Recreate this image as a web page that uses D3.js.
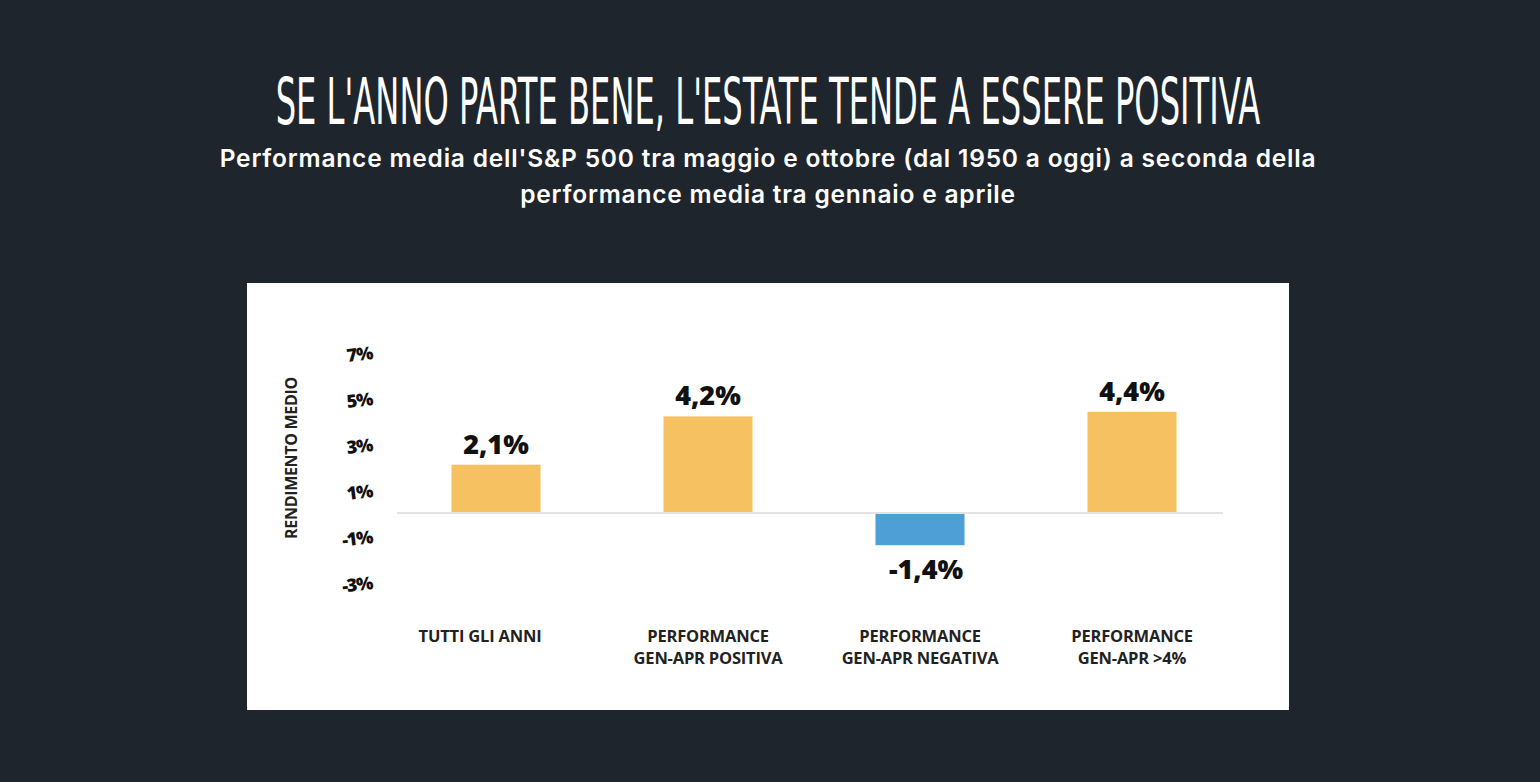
<!DOCTYPE html>
<html>
<head>
<meta charset="utf-8">
<script src="https://cdn.jsdelivr.net/npm/d3@7"></script>
<style>
  body { margin: 0; background: #1f252c; }
  svg { display: block; }
</style>
</head>
<body>
<div id="chart"></div>
<script>
// data
var categories = [
  ["TUTTI GLI ANNI"],
  ["PERFORMANCE", "GEN-APR POSITIVA"],
  ["PERFORMANCE", "GEN-APR NEGATIVA"],
  ["PERFORMANCE", "GEN-APR >4%"]
];
var values = [2.1, 4.2, -1.4, 4.4];
var valueLabels = ["2,1%", "4,2%", "-1,4%", "4,4%"];
var tickValues = [7, 5, 3, 1, -1, -3];
var tickLabels = ["7%", "5%", "3%", "1%", "-1%", "-3%"];

var W = 1540, H = 782;
var svg = d3.select("#chart").append("svg").attr("width", W).attr("height", H);

svg.append("rect").attr("width", W).attr("height", H).attr("fill", "#1f252c");

// title: narrow font squeezed to the original width
var title = svg.append("text")
  .attr("text-anchor", "middle")
  .attr("style", "font-family:'Liberation Sans Narrow','DejaVu Sans Condensed',sans-serif;font-size:64px;fill:#fff")
  .text("SE L'ANNO PARTE BENE, L'ESTATE TENDE A ESSERE POSITIVA");
var tw = title.node().getComputedTextLength();
title.attr("transform", "translate(768,124) scale(" + (985 / tw) + ",1)");

var sub = ["Performance media dell'S&P 500 tra maggio e ottobre (dal 1950 a oggi) a seconda della",
           "performance media tra gennaio e aprile"];
svg.selectAll(".sub").data(sub).enter().append("text")
  .attr("class", "sub")
  .attr("x", 768).attr("y", function(d, i) { return 167 + i * 36; })
  .attr("text-anchor", "middle")
  .attr("style", "font-family:Inter,'Open Sans',sans-serif;font-weight:600;font-size:24.5px;fill:#fff;letter-spacing:0.8px")
  .text(function(d) { return d; });

// white panel
svg.append("rect").attr("x", 247).attr("y", 283).attr("width", 1042).attr("height", 427).attr("fill", "#fff");

var x = d3.scaleBand().domain(d3.range(values.length))
  .range([390, 1238]).paddingInner(0.58).paddingOuter(0.29);
var y = d3.scaleLinear().domain([0, 1]).range([513, 490]);

// y ticks, slightly tilted like the original
var ticks = svg.append("g");
ticks.selectAll("text").data(tickValues).enter().append("text")
  .attr("transform", function(d) { return "translate(373," + (y(d) + 7) + ") rotate(-7)"; })
  .attr("text-anchor", "end")
  .attr("style", "font-family:'Open Sans',sans-serif;font-weight:800;font-size:18px;fill:#111;letter-spacing:-1px")
  .text(function(d, i) { return tickLabels[i]; });

svg.append("text")
  .attr("transform", "translate(297,458) rotate(-90)")
  .attr("text-anchor", "middle")
  .attr("style", "font-family:'Open Sans',sans-serif;font-weight:700;font-size:16px;fill:#222;letter-spacing:-0.3px")
  .text("RENDIMENTO MEDIO");

// bars
svg.selectAll(".bar").data(values).enter().append("rect")
  .attr("class", "bar")
  .attr("x", function(d, i) { return x(i); })
  .attr("y", function(d) { return d > 0 ? y(d) : y(0); })
  .attr("width", x.bandwidth())
  .attr("height", function(d) { return Math.abs(y(d) - y(0)); })
  .attr("fill", function(d) { return d > 0 ? "#f6c161" : "#4e9fd6"; });

// baseline
svg.append("line")
  .attr("x1", 397).attr("x2", 1223)
  .attr("y1", y(0)).attr("y2", y(0))
  .attr("stroke", "#e3e3e3").attr("stroke-width", 2);

// value labels
svg.selectAll(".val").data(values).enter().append("text")
  .attr("class", "val")
  .attr("x", function(d, i) { return x(i) + x.bandwidth() / 2 + (d < 0 ? 6 : 0); })
  .attr("y", function(d) { return d > 0 ? y(d) - 11 : y(d) + 34; })
  .attr("text-anchor", "middle")
  .attr("style", "font-family:'Open Sans',sans-serif;font-weight:800;font-size:27px;fill:#111")
  .text(function(d, i) { return valueLabels[i]; });

// category labels
var cat = svg.selectAll(".cat").data(categories).enter().append("text")
  .attr("class", "cat")
  .attr("text-anchor", "middle")
  .attr("style", "font-family:'Open Sans',sans-serif;font-weight:700;font-size:16.5px;fill:#222;letter-spacing:-0.2px");
cat.selectAll("tspan").data(function(d, i) { return d.map(function(t) { return {t: t, i: i}; }); })
  .enter().append("tspan")
  .attr("x", function(d) { return x(d.i) + x.bandwidth() / 2 - (d.i === 0 ? 16 : 0); })
  .attr("y", function(d, j) { return 642 + j * 22; })
  .text(function(d) { return d.t; });
</script>
</body>
</html>
